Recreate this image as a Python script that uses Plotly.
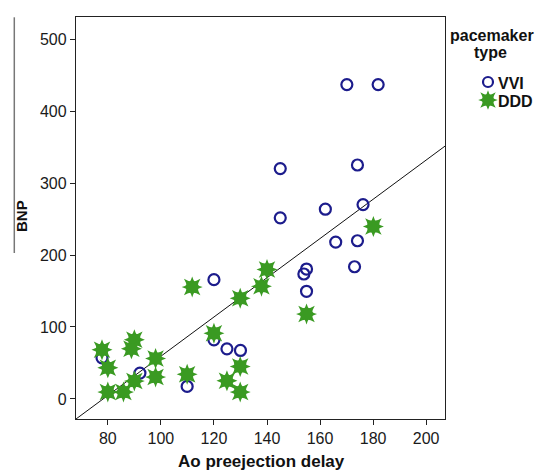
import plotly.graph_objects as go

# Data
vvi_x = [170.1, 181.9, 145.0, 174.1, 145.0, 162.0, 176.2, 165.9, 174.1, 173.0,
         154.9, 153.9, 154.9, 120.0, 120.0, 124.9, 130.0, 77.8, 92.1, 109.9]
vvi_y = [436.7, 436.7, 320.0, 325.0, 251.6, 263.6, 270.0, 217.9, 219.8, 183.7,
         180.5, 173.6, 149.6, 165.7, 82.2, 69.7, 67.4, 57.2, 36.0, 17.5]

ddd_x = [180.1, 140.0, 111.8, 137.9, 129.9, 154.9, 120.0, 77.8, 90.0, 88.9,
         80.0, 98.0, 98.0, 109.9, 129.9, 124.9, 129.9, 80.0, 85.9, 90.0]
ddd_y = [239.6, 180.0, 155.6, 156.5, 139.9, 118.2, 91.4, 68.3, 82.2, 69.7,
         43.4, 56.3, 30.5, 34.2, 45.2, 25.4, 9.7, 9.7, 9.7, 24.9]

fit_intercept = -213.1
fit_slope = 2.725

x_ticks = [80, 100, 120, 140, 160, 180, 200]
y_ticks = [0, 100, 200, 300, 400, 500]
x_range = [68.0, 207.1]
y_range = [-27.8, 530.6]

legend_labels = ["VVI", "DDD"]

FONT = "Liberation Sans, Arial, sans-serif"
BLUE = "#1c1c8c"
GREEN = "#3a9a22"

W, H = 544, 472
ML, MT, MB = 76, 17, 53
PLOT_R = 445
paper_w = W - ML
paper_h = H - MT - MB
main_dom = (PLOT_R - ML) / paper_w

fig = go.Figure()

fit_x = [x_range[0], x_range[1]]
fit_y = [fit_intercept + fit_slope * v for v in fit_x]
fig.add_trace(go.Scatter(x=fit_x, y=fit_y, mode="lines",
                         line=dict(color="#111111", width=1),
                         showlegend=False, hoverinfo="skip"))

fig.add_trace(go.Scatter(x=vvi_x, y=vvi_y, mode="markers", name="VVI",
                         marker=dict(symbol="circle-open", size=11, color=BLUE,
                                     line=dict(width=2.2, color=BLUE)),
                         showlegend=False))
for sym in ["star-diamond", "star-square"]:
    fig.add_trace(go.Scatter(x=ddd_x, y=ddd_y, mode="markers", name="DDD",
                             marker=dict(symbol=sym, size=15, color=GREEN,
                                         line=dict(width=0)),
                             showlegend=False))

# manual legend in pixel-coordinate overlay axes
leg_dom0 = 0.80
leg_x0 = ML + leg_dom0 * paper_w
fig.add_trace(go.Scatter(x=[488], y=[82], mode="markers", xaxis="x2", yaxis="y2",
                         marker=dict(symbol="circle-open", size=10, color=BLUE,
                                     line=dict(width=2.2, color=BLUE)),
                         showlegend=False, hoverinfo="skip"))
for sym in ["star-diamond", "star-square"]:
    fig.add_trace(go.Scatter(x=[488], y=[100], mode="markers", xaxis="x2", yaxis="y2",
                             marker=dict(symbol=sym, size=14, color=GREEN, line=dict(width=0)),
                             showlegend=False, hoverinfo="skip"))

axis_common = dict(showgrid=False, zeroline=False, showline=True, linecolor="#222222",
                   linewidth=1.3, mirror=True, ticks="outside", ticklen=5,
                   tickcolor="#222222", tickwidth=1.3,
                   tickfont=dict(family=FONT, size=16, color="#1a1a1a"))

fig.update_layout(
    width=W, height=H,
    margin=dict(l=ML, r=0, t=MT, b=MB, pad=0),
    paper_bgcolor="white", plot_bgcolor="white",
    xaxis=dict(range=x_range, tickvals=x_ticks, domain=[0, main_dom], **axis_common),
    yaxis=dict(range=y_range, tickvals=y_ticks, **axis_common),
    xaxis2=dict(domain=[leg_dom0, 1], range=[leg_x0, W], anchor="y2", visible=False),
    yaxis2=dict(domain=[0, 1], range=[H - MB, MT], anchor="x2", visible=False),
    showlegend=False,
)

def px_x(px):
    return (px - ML) / paper_w

def px_y(py):
    return (H - MB - py) / paper_h

ann = [
    dict(text="<b>Ao preejection delay</b>", x=px_x(261), y=px_y(462),
         font=dict(family=FONT, size=17, color="#111111")),
    dict(text="<b>BNP</b>", x=px_x(21), y=px_y(216), textangle=-90,
         font=dict(family=FONT, size=15, color="#111111")),
    dict(text="<b>pacemaker</b>", x=px_x(448), y=px_y(35), xanchor="left",
         font=dict(family=FONT, size=16, color="#111111")),
    dict(text="<b>type</b>", x=px_x(490), y=px_y(52),
         font=dict(family=FONT, size=16, color="#111111")),
    dict(text="<b>" + legend_labels[0] + "</b>", x=px_x(496), y=px_y(83), xanchor="left",
         font=dict(family=FONT, size=16, color="#111111")),
    dict(text="<b>" + legend_labels[1] + "</b>", x=px_x(496), y=px_y(101), xanchor="left",
         font=dict(family=FONT, size=16, color="#111111")),
]
for a in ann:
    a.setdefault("xanchor", "center")
    a.update(xref="paper", yref="paper", yanchor="middle", showarrow=False)
fig.update_layout(annotations=ann)

fig.add_shape(type="line", xref="paper", yref="paper",
              x0=px_x(14.3), x1=px_x(14.3), y0=px_y(17.3), y1=px_y(253),
              line=dict(color="#777777", width=1.5))

fig.write_html("out.html", config={"displayModeBar": False},
               post_script="document.body.style.margin='0';document.body.style.overflow='hidden';")
